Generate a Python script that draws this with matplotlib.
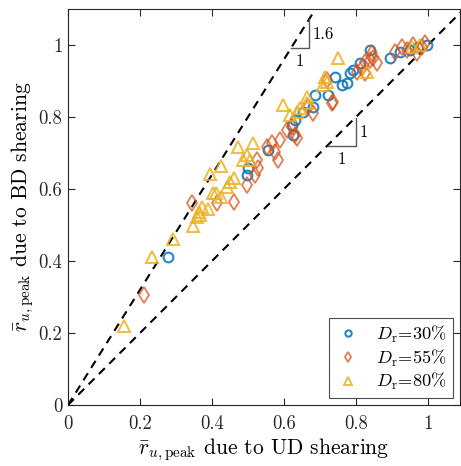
import numpy as np
import matplotlib as mpl
import matplotlib.pyplot as plt
from matplotlib.ticker import FuncFormatter

mpl.rcParams['font.family'] = 'serif'
mpl.rcParams['font.serif'] = ['cmr10']
mpl.rcParams['mathtext.fontset'] = 'cm'
mpl.rcParams['axes.formatter.use_mathtext'] = True

# Dr = 30 %
x30 = [0.278, 0.497, 0.500, 0.556, 0.622, 0.631, 0.653, 0.681, 0.686, 0.722, 0.742,
       0.761, 0.775, 0.783, 0.792, 0.811, 0.839, 0.894, 0.922, 0.950, 0.972, 0.997, 0.625]
y30 = [0.411, 0.639, 0.658, 0.708, 0.778, 0.792, 0.814, 0.828, 0.861, 0.861, 0.911,
       0.889, 0.894, 0.922, 0.931, 0.950, 0.986, 0.964, 0.981, 0.986, 0.994, 1.000, 0.750]

# Dr = 55 %
x55 = [0.211, 0.344, 0.414, 0.461, 0.497, 0.519, 0.525, 0.528, 0.553, 0.567, 0.575,
       0.583, 0.589, 0.608, 0.622, 0.631, 0.636, 0.667, 0.681, 0.719, 0.733, 0.736,
       0.803, 0.817, 0.825, 0.825, 0.839, 0.844, 0.847, 0.858, 0.908, 0.928, 0.942,
       0.958, 0.969, 0.983, 0.992]
y55 = [0.306, 0.561, 0.561, 0.564, 0.611, 0.639, 0.681, 0.658, 0.717, 0.728, 0.703,
       0.681, 0.736, 0.764, 0.772, 0.750, 0.742, 0.828, 0.811, 0.903, 0.839, 0.842,
       0.925, 0.936, 0.953, 0.922, 0.958, 0.978, 0.964, 0.950, 0.981, 0.994, 0.986,
       1.000, 0.978, 0.994, 1.005]

# Dr = 80 %
x80 = [0.156, 0.233, 0.292, 0.347, 0.358, 0.364, 0.372, 0.389, 0.403, 0.425, 0.394,
       0.425, 0.442, 0.450, 0.461, 0.472, 0.514, 0.497, 0.506, 0.486, 0.597, 0.617,
       0.636, 0.644, 0.664, 0.664, 0.708, 0.714, 0.719, 0.750, 0.831, 0.956, 0.978,
       0.367, 0.411]
y80 = [0.219, 0.411, 0.461, 0.497, 0.522, 0.536, 0.550, 0.544, 0.589, 0.578, 0.642,
       0.664, 0.606, 0.619, 0.631, 0.717, 0.728, 0.694, 0.681, 0.681, 0.833, 0.806,
       0.814, 0.825, 0.839, 0.856, 0.889, 0.911, 0.897, 0.964, 0.925, 0.994, 1.000,
       0.528, 0.589]

blue = (0.0, 0.447, 0.741)
orange = (0.85, 0.325, 0.098)
yellow = (0.929, 0.694, 0.125)

fig = plt.figure(figsize=(4.61, 4.66), dpi=100)
ax = fig.add_axes([68 / 461, 61 / 466, 392 / 461, 396 / 466])

xx = np.array([0, 1.2])
ax.plot(xx, 1.6 * xx, 'k--', lw=1.5, dashes=(4, 3), zorder=1)
ax.plot(xx, xx, 'k--', lw=1.5, dashes=(4, 3), zorder=1)

ax.plot(x30, y30, 'o', mfc='none', mec=blue, mew=1.5, ms=7, alpha=0.85, label=r'$D_{\mathrm{r}}\!=\!30\%$')
ax.plot(x55, y55, 'd', mfc='none', mec=orange, mew=1.3, ms=8, alpha=0.75, label=r'$D_{\mathrm{r}}\!=\!55\%$')
ax.plot(x80, y80, '^', mfc='none', mec=yellow, mew=1.4, ms=8.5, alpha=0.85, label=r'$D_{\mathrm{r}}\!=\!80\%$')

# slope triangles
g = '0.35'
ax.plot([0.619, 0.669, 0.669], [0.992, 0.992, 1.072], color=g, lw=1)
ax.text(0.679, 1.03, '1.6', fontsize=12, va='center', ha='left')
ax.text(0.644, 0.955, '1', fontsize=12, va='center', ha='center')
ax.plot([0.722, 0.800, 0.800], [0.719, 0.719, 0.797], color=g, lw=1)
ax.text(0.81, 0.758, '1', fontsize=12, va='center', ha='left')
ax.text(0.761, 0.682, '1', fontsize=12, va='center', ha='center')

ax.set_xlim(0, 1.089)
ax.set_ylim(0, 1.1)
ticks = [0, 0.2, 0.4, 0.6, 0.8, 1]
ax.set_xticks(ticks)
ax.set_yticks(ticks)
fmt = FuncFormatter(lambda v, p: '%g' % v)
ax.xaxis.set_major_formatter(fmt)
ax.yaxis.set_major_formatter(fmt)
ax.tick_params(direction='in', length=5, width=0.8, colors='0.15', labelsize=13.5,
               top=True, right=True, pad=4)
ax.tick_params(axis='x', pad=7)
for s in ax.spines.values():
    s.set_color('0.15')
    s.set_linewidth(0.8)

ax.set_xlabel(r'$\bar{r}_{u,\mathrm{peak}}$ due to UD shearing', fontsize=15.5, labelpad=3)
ax.set_ylabel(r'$\bar{r}_{u,\mathrm{peak}}$ due to BD shearing', fontsize=15.5, labelpad=2)

leg = ax.legend(loc='lower right', bbox_to_anchor=(0.982, 0.018), borderaxespad=0,
                fontsize=13.2, markerscale=0.65, fancybox=False, framealpha=1,
                edgecolor='0.3', handletextpad=0.8, handlelength=1.5, borderpad=0.3,
                labelspacing=0.15)
leg.get_frame().set_linewidth(0.8)

fig.savefig('out.png', dpi=100)
